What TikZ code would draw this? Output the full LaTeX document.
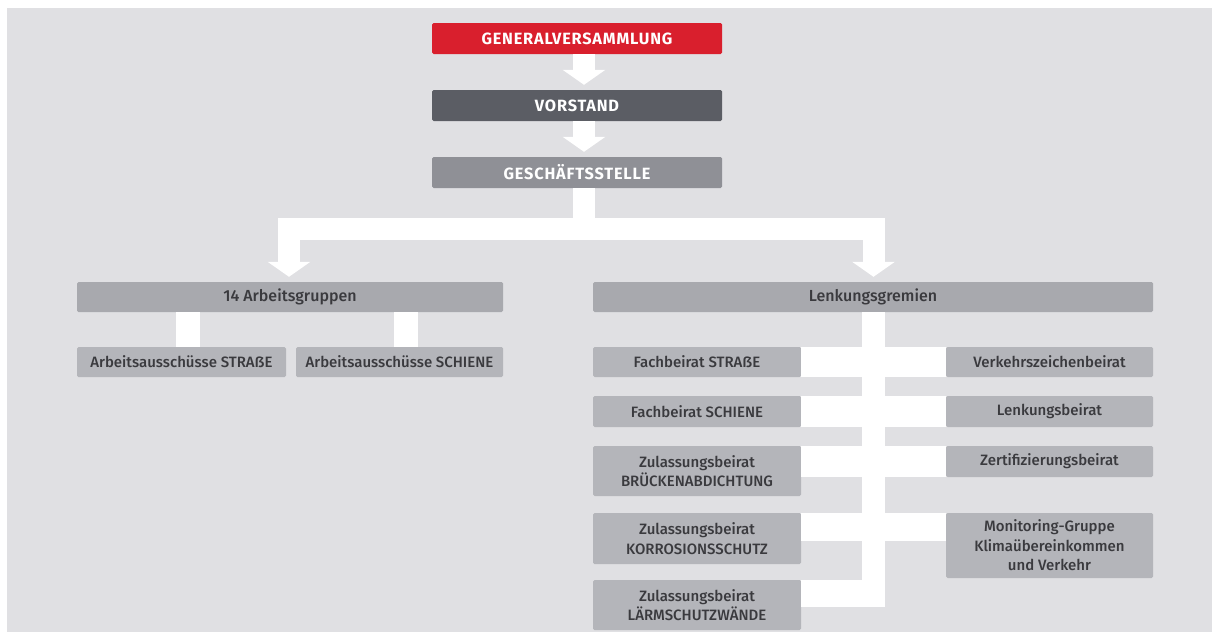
\documentclass[tikz,border=0pt]{standalone}
\usepackage{fontspec}
\setmainfont{Fira Sans}
\newfontfamily\medfont{Fira Sans}[UprightFont={* Medium}]
\newfontfamily\capsfont{Fira Sans}[UprightFont={* Bold}, LetterSpace=5]
\usetikzlibrary{calc,arrows.meta}

\definecolor{bgc}{RGB}{224,224,227}
\definecolor{redc}{RGB}{217,31,45}
\definecolor{darkc}{RGB}{91,93,100}
\definecolor{midc}{RGB}{143,144,150}
\definecolor{grpc}{RGB}{168,169,174}
\definecolor{subc}{RGB}{180,181,186}
\definecolor{txtc}{RGB}{58,58,62}

\tikzset{
  box/.style={rounded corners=1.5pt, inner sep=0pt, align=center},
  topbox/.style={box, minimum width=290pt, minimum height=31pt, text=white,
    font=\capsfont\fontsize{16.3}{19}\selectfont},
  grpbox/.style={box, fill=grpc, minimum height=30pt, text=txtc,
    font=\medfont\fontsize{16}{19}\selectfont},
  subbox/.style={box, fill=subc, text=txtc,
    font=\medfont\fontsize{15}{19.5}\selectfont},
  band/.style={draw=white, line width=22pt},
  bandarrow/.style={band, -{Triangle[width=42pt,length=15pt]}},
}

\begin{document}
\begin{tikzpicture}[x=1pt, y=-1pt]
\useasboundingbox (0,0) rectangle (1212,632);
\fill[white] (0,0) rectangle (1212,632);
\fill[bgc] (7,8) rectangle (1212,632);

% top chain
\node[topbox, fill=redc]  (gv) at (577,38.5)  {GENERALVERSAMMLUNG};
\node[topbox, fill=darkc] (vs) at (577,105.5) {VORSTAND};
\node[topbox, fill=midc]  (gs) at (577,172.5) {GESCHÄFTSSTELLE};

% second level
\node[grpbox, minimum width=426pt] (ag) at (290,297) {14 Arbeitsgruppen};
\node[grpbox, minimum width=560pt] (lg) at (873,297) {Lenkungsgremien};

% working committees
\node[subbox, minimum width=209pt, minimum height=30pt] (as1) at (181.5,362) {Arbeitsausschüsse STRAẞE};
\node[subbox, minimum width=207pt, minimum height=30pt] (as2) at (399.5,362) {Arbeitsausschüsse SCHIENE};

% steering bodies, left column
\node[subbox, minimum width=208pt, minimum height=30pt] (fs)  at (697,362)   {Fachbeirat STRAẞE};
\node[subbox, minimum width=208pt, minimum height=31pt] (fsc) at (697,411.5) {Fachbeirat SCHIENE};
\node[subbox, minimum width=208pt, minimum height=50pt] (zb1) at (697,471)   {Zulassungsbeirat\\BRÜCKENABDICHTUNG};
\node[subbox, minimum width=208pt, minimum height=51pt] (zb2) at (697,538.5) {Zulassungsbeirat\\KORROSIONSSCHUTZ};
\node[subbox, minimum width=208pt, minimum height=50pt] (zb3) at (697,605)   {Zulassungsbeirat\\LÄRMSCHUTZWÄNDE};

% steering bodies, right column
\node[subbox, minimum width=207pt, minimum height=30pt] (vz) at (1049.5,362)   {Verkehrszeichenbeirat};
\node[subbox, minimum width=207pt, minimum height=31pt] (lb) at (1049.5,411.5) {Lenkungsbeirat};
\node[subbox, minimum width=207pt, minimum height=31pt] (zf) at (1049.5,461.5) {Zertifizierungsbeirat};
\node[subbox, minimum width=207pt, minimum height=65pt] (mg) at (1049.5,545.5) {Monitoring-Gruppe\\Klimaübereinkommen\\und Verkehr};

% arrows down the top chain
\draw[bandarrow] ([xshift=7pt]gv.south) -- ([xshift=7pt,yshift=5pt]vs.north);
\draw[bandarrow] ([xshift=7pt]vs.south) -- ([xshift=7pt,yshift=5pt]gs.north);

% split from the office to both groups
\coordinate (split) at ($([xshift=6.5pt]gs.south)+(0,40.5)$);
\draw[band] ([xshift=6.5pt]gs.south) -- (split);
\draw[bandarrow] (split) -| ([xshift=-1pt,yshift=5pt]ag.north);
\draw[bandarrow] (split) -| ([xshift=0.5pt,yshift=5pt]lg.north);

% working groups to committees
\draw[draw=white, line width=24pt] ([xshift=6.5pt]as1.north) -- ([xshift=6.5pt]as1.north |- ag.south);
\draw[draw=white, line width=24pt] ([xshift=6.5pt]as2.north) -- ([xshift=6.5pt]as2.north |- ag.south);

% steering spine and its branches
\coordinate (spb) at ($(zb3.north -| lg.south)+(0.5,27)$);
\draw[draw=white, line width=23pt] ([xshift=0.5pt]lg.south) -- (spb);
\fill[white] (fs.north east)  rectangle (vz.south west);
\fill[white] (fsc.north east) rectangle (lb.south west);
\fill[white] (zb1.north east) rectangle (zf.south west);
\fill[white] (zb2.north east) rectangle ($(mg.north west)+(0,28)$);
\fill[white] (zb3.north east) rectangle ($(spb)+(11.5,0)$);
\end{tikzpicture}
\end{document}
